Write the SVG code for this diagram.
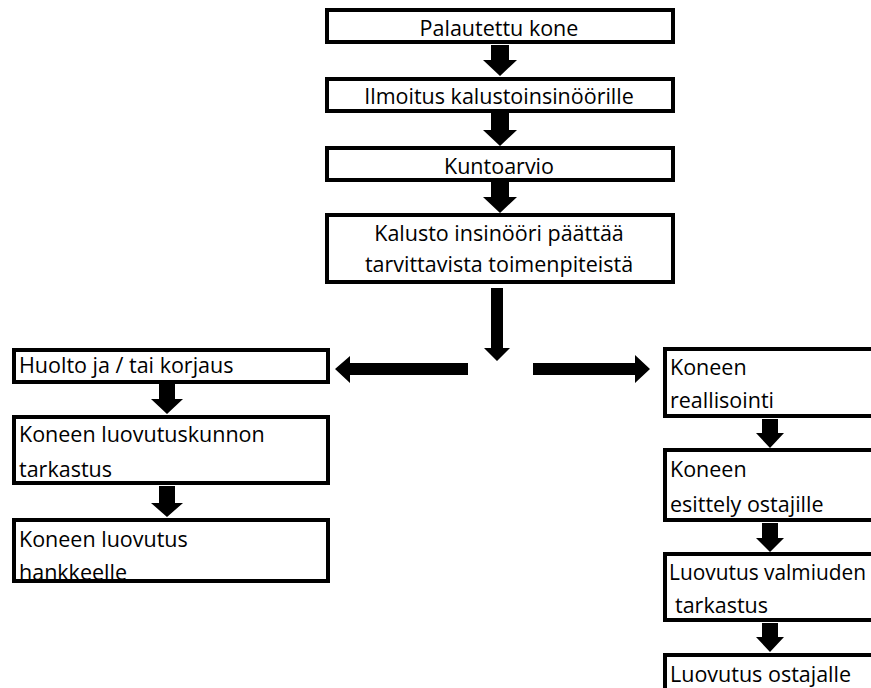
<svg xmlns="http://www.w3.org/2000/svg" width="871" height="688" viewBox="0 0 871 688">
<style>
.box{fill:none;stroke:#000;stroke-width:4}
text{font-family:"Open Sans","Noto Sans",sans-serif;font-size:21.5px;fill:#000}
.c{text-anchor:middle}
.arr{fill:#000}
</style>
<rect width="871" height="688" fill="#fff"/>
<g id="connectors">
<polygon class="arr" points="491,45 509,45 509,60 517,60 500,76 483,60 491,60"/>
<polygon class="arr" points="491,113 509,113 509,130 517,130 500,146 483,130 491,130"/>
<polygon class="arr" points="491,182 509,182 509,197 517,197 500,213 483,197 491,197"/>
<polygon class="arr" points="491,288 503,288 503,348 510,348 497,361 484,348 491,348"/>
<polygon class="arr" points="468,363 350,363 350,356 335,369 350,383 350,375 468,375"/>
<polygon class="arr" points="533,363 635,363 635,355 650,369 635,383 635,375 533,375"/>
<polygon class="arr" points="159,384 175,384 175,399 183,399 167,414 151,399 159,399"/>
<polygon class="arr" points="159,486 175,486 175,503 183,503 167,517 151,503 159,503"/>
<polygon class="arr" points="762,419 778,419 778,433 784,433 770,448 756,433 762,433"/>
<polygon class="arr" points="762,523 778,523 778,538 784,538 770,552 756,538 762,538"/>
<polygon class="arr" points="762,623 778,623 778,637 784,637 770,652 756,637 762,637"/>
</g>
<g id="n1"><text class="c" x="499" y="36">Palautettu kone</text><rect class="box" x="327" y="10" width="346" height="32"/></g>
<g id="n2"><text class="c" x="499" y="104">Ilmoitus kalustoinsinöörille</text><rect class="box" x="327" y="79" width="346" height="32"/></g>
<g id="n3"><text class="c" x="499" y="174">Kuntoarvio</text><rect class="box" x="327" y="148" width="346" height="32"/></g>
<g id="n4"><text class="c" x="499" y="241">Kalusto insinööri päättää</text><text class="c" x="499" y="272">tarvittavista toimenpiteistä</text><rect class="box" x="327" y="215" width="346" height="67"/></g>
<g id="l1"><text x="19" y="373">Huolto ja / tai korjaus</text><rect class="box" x="14" y="350" width="314" height="32"/></g>
<g id="l2"><text x="19" y="442">Koneen luovutuskunnon</text><text x="19" y="477">tarkastus</text><rect class="box" x="14" y="417" width="314" height="66"/></g>
<g id="l3"><text x="19" y="547">Koneen luovutus</text><text x="19" y="580">hankkeelle</text><rect class="box" x="14" y="520" width="314" height="61"/></g>
<g id="r1"><text x="670" y="375">Koneen</text><text x="670" y="408">reallisointi</text><rect class="box" x="665" y="349" width="220" height="67"/></g>
<g id="r2"><text x="670" y="477">Koneen</text><text x="670" y="512">esittely ostajille</text><rect class="box" x="665" y="450" width="220" height="70"/></g>
<g id="r3"><text x="669" y="580" textLength="197" lengthAdjust="spacingAndGlyphs">Luovutus valmiuden</text><text x="675" y="613">tarkastus</text><rect class="box" x="665" y="554" width="220" height="66"/></g>
<g id="r4"><text x="670" y="682">Luovutus ostajalle</text><rect class="box" x="665" y="655" width="220" height="60"/></g>
</svg>
